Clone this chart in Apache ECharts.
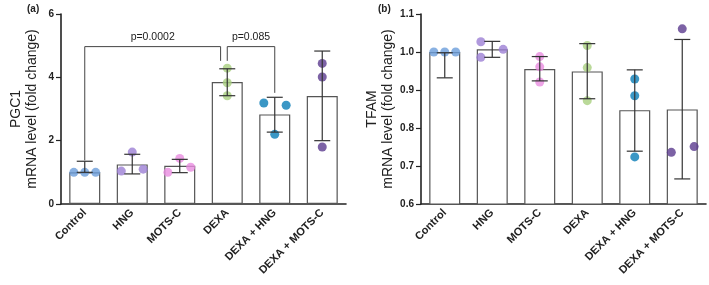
<!DOCTYPE html>
<html><head><meta charset="utf-8">
<script src="https://cdn.jsdelivr.net/npm/echarts@6/dist/echarts.min.js"></script>
<style>html,body{margin:0;padding:0;background:#fff}#c{width:709px;height:285px}</style>
</head><body><div id="c"></div>
<script>
// ---------- data ----------
const categories = ['Control', 'HNG', 'MOTS-C', 'DEXA', 'DEXA + HNG', 'DEXA + MOTS-C'];
const groupColors = ['#6b9edb', '#9c80d4', '#e98ce0', '#a9cf80', '#0a7db6', '#5b3b8f'];

// Panel (a) PGC1
const pgcMean = [1.0, 1.25, 1.21, 3.85, 2.83, 3.41];
const pgcErrLow = [1.0, 0.95, 0.99, 3.42, 2.27, 2.0];
const pgcErrHigh = [1.35, 1.57, 1.41, 4.27, 3.37, 4.83];
const pgcPoints = [[1.0, 1.0, 1.0], [1.04, 1.64, 1.1], [1.0, 1.44, 1.16], [4.29, 3.83, 3.42], [3.19, 3.12, 2.2], [4.44, 4.01, 1.8]];
const pgcJitter = [[-0.23, 0, 0.23], [-0.23, 0, 0.23], [-0.25, 0, 0.23], [0, 0, 0], [-0.23, 0.24, 0], [0, 0, 0]];
const pgcYTicks = {min: 0, max: 6, interval: 2};
// brackets: [xStart, xEnd, level, leftLegEnd, rightLegEnd], labels
const pgcBrackets = [[0, 2.86, 4.97, 1.38, 4.52], [3.0, 4.0, 4.97, 4.52, 3.51]];
const pgcBracketLabels = ['p=0.0002', 'p=0.085'];

// Panel (b) TFAM
const tfamMean = [1.0, 1.007, 0.955, 0.949, 0.847, 0.849];
const tfamErrLow = [0.932, 0.986, 0.924, 0.877, 0.739, 0.666];
const tfamErrHigh = [0.998, 1.028, 0.988, 1.022, 0.953, 1.033];
const tfamPoints = [[1.0, 1.0, 1.0], [1.027, 0.986, 1.007], [0.988, 0.961, 0.921], [1.017, 0.959, 0.872], [0.929, 0.885, 0.724], [1.061, 0.736, 0.751]];
const tfamJitter = [[-0.23, 0, 0.23], [-0.24, -0.24, 0.23], [0, 0, 0], [0, 0, 0], [0, 0, 0], [0, -0.23, 0.25]];
const tfamYTicks = {min: 0.6, max: 1.1, interval: 0.1};

// ---------- chart ----------
const FONT = '"Liberation Sans", Arial, sans-serif';
const AX = '#222';

function scatterData(points, jitter) {
  const out = [];
  points.forEach((vals, i) => vals.forEach((v, j) => out.push({
    value: [i + jitter[i][j], v], itemStyle: {color: groupColors[i]}
  })));
  return out;
}

function buildPanel(idx, left, yName, mean, lo, hi, points, jitter, ticks, decimals) {
  const grid = {left: left, top: 14, width: 285, height: 190};
  const xCat = {
    type: 'category', gridIndex: idx, data: categories, boundaryGap: true,
    axisLine: {onZero: false, lineStyle: {color: AX, width: 1.6}},
    axisTick: {alignWithLabel: true, length: 4, lineStyle: {color: AX, width: 1.2}},
    axisLabel: {rotate: 45, interval: 0, margin: 7, fontSize: 11, fontWeight: 'bold', color: AX, fontFamily: FONT}
  };
  const xVal = {type: 'value', gridIndex: idx, min: -0.5, max: 5.5, show: false,
    axisLine: {onZero: false}, splitLine: {show: false}};
  const y = {
    type: 'value', gridIndex: idx, min: ticks.min, max: ticks.max, interval: ticks.interval,
    splitLine: {show: false},
    axisLine: {show: true, onZero: false, lineStyle: {color: AX, width: 1.6}},
    axisTick: {show: true, length: 5, lineStyle: {color: AX, width: 1.2}},
    axisLabel: {fontSize: 10, fontWeight: 'bold', color: AX, fontFamily: FONT, margin: 7,
      formatter: v => v.toFixed(decimals)},
    name: yName, nameLocation: 'middle', nameRotate: 90, nameGap: 21,
    nameTextStyle: {fontSize: 14, lineHeight: 16, color: AX, fontFamily: FONT}
  };
  const series = [
    {type: 'bar', xAxisIndex: idx * 2, yAxisIndex: idx, data: mean, barWidth: 31, clip: true,
      itemStyle: {color: '#fff', borderColor: '#555', borderWidth: 1.2}, z: 1, silent: true},
    {type: 'scatter', xAxisIndex: idx * 2 + 1, yAxisIndex: idx, data: scatterData(points, jitter),
      symbolSize: 9, z: 2, silent: true},
    {type: 'custom', xAxisIndex: idx * 2 + 1, yAxisIndex: idx, z: 3, silent: true,
      data: mean.map((m, i) => [i, lo[i], hi[i]]),
      renderItem: (params, api) => {
        const pl = api.coord([api.value(0), api.value(1)]);
        const ph = api.coord([api.value(0), api.value(2)]);
        const hw = 8;
        const st = {stroke: '#333', lineWidth: 1.2};
        return {type: 'group', children: [
          {type: 'line', shape: {x1: pl[0], y1: pl[1], x2: ph[0], y2: ph[1]}, style: st},
          {type: 'line', shape: {x1: ph[0] - hw, y1: ph[1], x2: ph[0] + hw, y2: ph[1]}, style: st},
          {type: 'line', shape: {x1: pl[0] - hw, y1: pl[1], x2: pl[0] + hw, y2: pl[1]}, style: st}
        ]};
      }}
  ];
  return {grid, xAxes: [xCat, xVal], y, series};
}

const A = buildPanel(0, 61, 'PGC1\nmRNA level (fold change)', pgcMean, pgcErrLow, pgcErrHigh, pgcPoints, pgcJitter, pgcYTicks, 0);
const B = buildPanel(1, 421, 'TFAM\nmRNA level (fold change)', tfamMean, tfamErrLow, tfamErrHigh, tfamPoints, tfamJitter, tfamYTicks, 1);

const bracketSeries = {
  type: 'custom', xAxisIndex: 1, yAxisIndex: 0, z: 4, silent: true, clip: false,
  data: pgcBrackets.map((b, i) => [...b, i]),
  renderItem: (params, api) => {
    const x1 = api.value(0), x2 = api.value(1), lvl = api.value(2);
    const a = api.coord([x1, api.value(3)]);
    const b = api.coord([x1, lvl]);
    const c = api.coord([x2, lvl]);
    const d = api.coord([x2, api.value(4)]);
    const label = pgcBracketLabels[api.value(5)];
    return {type: 'group', children: [
      {type: 'polyline', shape: {points: [a, b, c, d]}, style: {stroke: '#444', lineWidth: 1, fill: null}},
      {type: 'text', x: (b[0] + c[0]) / 2, y: b[1] - 4,
        style: {text: label, fill: '#222', font: '10.5px ' + FONT, align: 'center', verticalAlign: 'bottom'}}
    ]};
  }
};

const option = {
  animation: false,
  backgroundColor: '#fff',
  grid: [A.grid, B.grid],
  xAxis: [...A.xAxes, ...B.xAxes],
  yAxis: [A.y, B.y],
  series: [...A.series, ...B.series, bracketSeries],
  graphic: [
    {type: 'text', left: 27, top: 4, style: {text: '(a)', font: 'bold 10px ' + FONT, fill: '#222'}},
    {type: 'text', left: 378, top: 4, style: {text: '(b)', font: 'bold 10px ' + FONT, fill: '#222'}}
  ]
};

const chart = echarts.init(document.getElementById('c'), null, {renderer: 'canvas'});
chart.setOption(option);
</script>
</body></html>
